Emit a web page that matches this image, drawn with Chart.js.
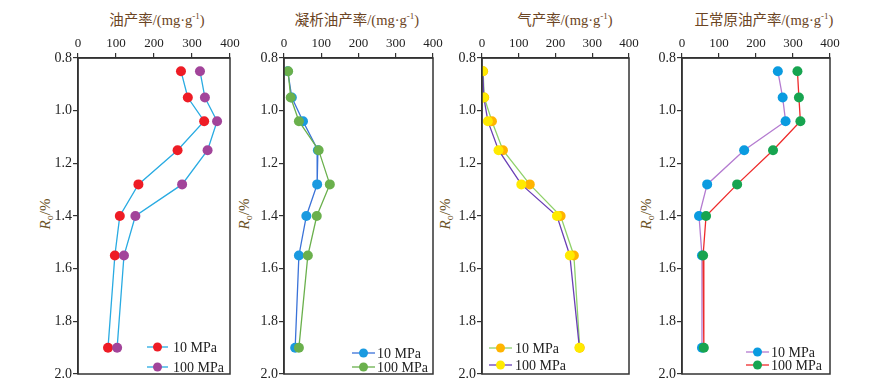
<!DOCTYPE html>
<html>
<head>
<meta charset="utf-8">
<script src="https://cdn.jsdelivr.net/npm/chart.js@4/dist/chart.umd.min.js"></script>
<style>
  body { margin: 0; width: 875px; height: 389px; position: relative; background: #fff; overflow: hidden;
         font-family: "Liberation Serif", "Noto Sans CJK SC", serif; }
  canvas { position: absolute; top: 0; }
  .ttl { position: absolute; top: 12px; font-size: 14.5px; line-height: 17px; color: #6b4423;
         white-space: nowrap; transform: translateX(-50%); }
  .ttl sup { font-size: 9px; vertical-align: 6px; line-height: 0; }
  .ylab { position: absolute; font-size: 15px; line-height: 16px; color: #6b5326; white-space: nowrap;
          transform: translate(-50%, -50%) rotate(-90deg); }
  .ylab sub { font-size: 10px; vertical-align: -3px; line-height: 0; }
</style>
</head>
<body>
<div class="ttl" style="left:157px">油产率/(mg·g<sup>-1</sup>)</div>
<div class="ttl" style="left:357px">凝析油产率/(mg·g<sup>-1</sup>)</div>
<div class="ttl" style="left:565px">气产率/(mg·g<sup>-1</sup>)</div>
<div class="ttl" style="left:764px">正常原油产率/(mg·g<sup>-1</sup>)</div>
<div class="ylab" style="left:45px;top:214px"><i>R</i><sub>o</sub>/%</div>
<div class="ylab" style="left:244px;top:214px"><i>R</i><sub>o</sub>/%</div>
<div class="ylab" style="left:445px;top:214px"><i>R</i><sub>o</sub>/%</div>
<div class="ylab" style="left:646px;top:214px"><i>R</i><sub>o</sub>/%</div>
<canvas id="c1"></canvas>
<canvas id="c2"></canvas>
<canvas id="c3"></canvas>
<canvas id="c4"></canvas>
<script>
// 成熟度 Ro (%)
const roLevels = [0.85, 0.95, 1.04, 1.15, 1.28, 1.40, 1.55, 1.90];
const seriesLabels = ["10 MPa", "100 MPa"];

// 油产率
const oil10 = [271, 289, 332, 262, 159, 110, 97, 79];
const oil100 = [321, 334, 366, 341, 274, 151, 121, 103];
// 凝析油产率
const cond10 = [10, 21, 51, 91, 89, 60, 40, 30];
const cond100 = [11, 18, 40, 93, 123, 88, 64, 40];
// 气产率
const gas10 = [3, 6, 27, 57, 130, 214, 250, 266];
const gas100 = [2, 5, 16, 45, 107, 204, 239, 265];
// 正常原油产率
const crude10 = [259, 272, 280, 168, 68, 46, 54, 54];
const crude100 = [312, 316, 320, 246, 149, 65, 57, 59];

const xTicks = [0, 100, 200, 300, 400];
const yTicks = [0.8, 1.0, 1.2, 1.4, 1.6, 1.8, 2.0];

function toPoints(vals) {
  return vals.map((v, i) => ({ x: v, y: roLevels[i] }));
}

// 图内图例 + 外框
const frameLegend = {
  id: "frameLegend",
  afterDraw(chart, args, opts) {
    const ctx = chart.ctx;
    const a = chart.chartArea;
    ctx.save();
    ctx.strokeStyle = "#333";
    ctx.lineWidth = 1.5;
    ctx.strokeRect(a.left, a.top, a.right - a.left, a.bottom - a.top);
    const x0 = opts.side === "left" ? a.left + opts.dx : a.right - opts.dx;
    chart.data.datasets.forEach((ds, i) => {
      const y = a.bottom - opts.rows[i];
      ctx.strokeStyle = ds.borderColor;
      ctx.lineWidth = 1.3;
      ctx.beginPath();
      ctx.moveTo(x0, y);
      ctx.lineTo(x0 + opts.len, y);
      ctx.stroke();
      ctx.fillStyle = ds.pointBackgroundColor;
      ctx.beginPath();
      ctx.arc(x0 + opts.len / 2, y, 4.5, 0, Math.PI * 2);
      ctx.fill();
      ctx.fillStyle = "#222";
      ctx.font = "14px 'Liberation Serif'";
      ctx.textBaseline = "middle";
      ctx.fillText(ds.label, x0 + opts.len + opts.gap, y + 1);
    });
    ctx.restore();
  }
};

function makePanel(id, plotLeft, plotW, d10, d100, colors, legendOpts) {
  const cv = document.getElementById(id);
  const yW = 45;
  cv.width = yW + plotW + 14;
  cv.height = 389;
  cv.style.left = (plotLeft - yW) + "px";
  return new Chart(cv.getContext("2d"), {
    type: "scatter",
    data: {
      datasets: [
        {
          label: seriesLabels[0],
          data: toPoints(d10),
          showLine: true,
          borderColor: colors[0],
          borderWidth: 1.3,
          pointBackgroundColor: colors[1],
          pointBorderWidth: 0,
          pointRadius: 5,
          order: 1,
        },
        {
          label: seriesLabels[1],
          data: toPoints(d100),
          showLine: true,
          borderColor: colors[2],
          borderWidth: 1.3,
          pointBackgroundColor: colors[3],
          pointBorderWidth: 0,
          pointRadius: 5,
          order: 0,
        },
      ],
    },
    options: {
      responsive: false,
      animation: false,
      layout: { padding: { top: 30, right: 14, bottom: 15, left: 0 } },
      scales: {
        x: {
          type: "linear",
          position: "top",
          min: 0,
          max: 400,
          afterBuildTicks: (s) => { s.ticks = xTicks.map((v) => ({ value: v })); },
          afterFit: (s) => { s.height = 28; },
          ticks: { color: "#222", padding: 2, font: { family: "Liberation Serif", size: 13 } },
          grid: { drawOnChartArea: false, drawTicks: true, tickLength: 5, color: "#333", lineWidth: 1.2 },
          border: { color: "#333", width: 1.5 },
        },
        y: {
          type: "linear",
          reverse: true,
          min: 0.8,
          max: 2.0,
          afterBuildTicks: (s) => { s.ticks = yTicks.map((v) => ({ value: v })); },
          afterFit: (s) => { s.width = yW; },
          ticks: {
            color: "#222",
            padding: 1,
            font: { family: "Liberation Serif", size: 14 },
            callback: (v) => Number(v).toFixed(1),
          },
          grid: { drawOnChartArea: false, drawTicks: true, tickLength: 5, color: "#333", lineWidth: 1.2 },
          border: { color: "#333", width: 1.5 },
        },
      },
      plugins: {
        legend: { display: false },
        tooltip: { enabled: false },
        frameLegend: legendOpts,
      },
    },
    plugins: [frameLegend],
  });
}

makePanel("c1", 78, 152, oil10, oil100,
  ["#29abe2", "#ee1c25", "#29abe2", "#a2449a"],
  { side: "right", dx: 83, len: 21, gap: 5, rows: [27, 7] });
makePanel("c2", 284.3, 149, cond10, cond100,
  ["#3a72d8", "#1a9ae0", "#6ab04c", "#6ab04c"],
  { side: "right", dx: 81, len: 23, gap: 2, rows: [21, 7] });
makePanel("c3", 482.3, 147, gas10, gas100,
  ["#8fd16a", "#ffb400", "#6a3fb5", "#ffea00"],
  { side: "left", dx: 7, len: 23, gap: 3, rows: [26, 9] });
makePanel("c4", 682.3, 148, crude10, crude100,
  ["#b47bd0", "#0a9be0", "#ee2b2b", "#17a450"],
  { side: "right", dx: 84, len: 23, gap: 2, rows: [22, 9] });
</script>
</body>
</html>
